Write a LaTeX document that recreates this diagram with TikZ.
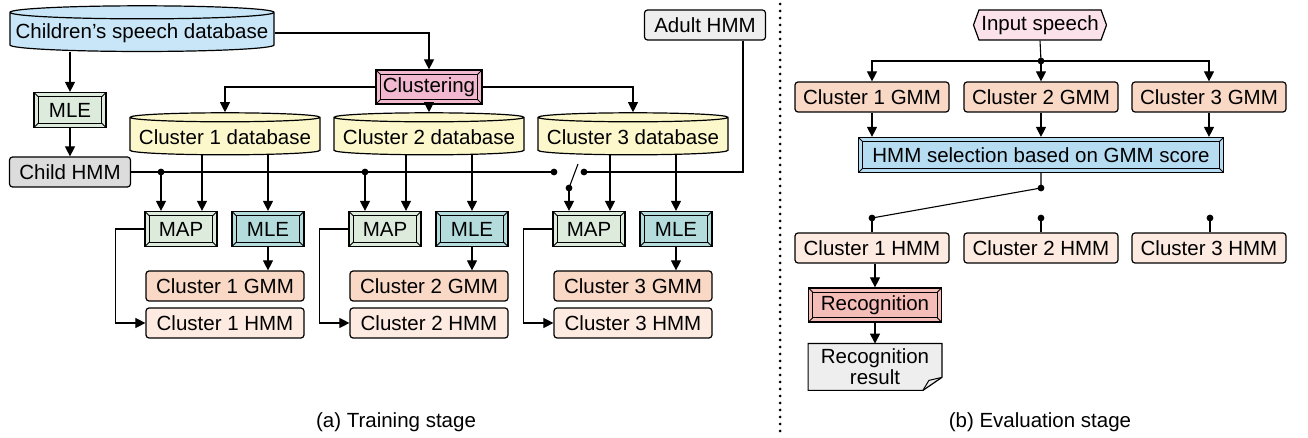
\documentclass[tikz,border=0pt]{standalone}
\usepackage{fontspec}
\setmainfont{Liberation Sans}
\usepackage{tikz}
\usetikzlibrary{arrows.meta, shapes.geometric, shapes.symbols, backgrounds}

\definecolor{dbblue}{HTML}{C8E6F8}
\definecolor{dbyellow}{HTML}{FCF8CC}
\definecolor{clpink}{HTML}{F2B8D0}
\definecolor{mapgreen}{HTML}{DCEBDC}
\definecolor{mleteal}{HTML}{B4DCDC}
\definecolor{gmmpeach}{HTML}{F9D8C6}
\definecolor{hmmpeach}{HTML}{FDEBE1}
\definecolor{childgray}{HTML}{DCDCDC}
\definecolor{adultgray}{HTML}{EEEEEE}
\definecolor{inpink}{HTML}{FBE1EA}
\definecolor{selblue}{HTML}{B6DCF2}
\definecolor{recred}{HTML}{F4BDB8}
\definecolor{resgray}{HTML}{EEEEEE}

\tikzset{
    database/.style={cylinder, shape border rotate=90, draw, fill=#1, line width=0.6pt,
        aspect=0.05, minimum height=21pt, minimum width=95pt, inner xsep=2pt, inner ysep=1.5pt},
    bevel/.style={rectangle, draw, fill=#1, line width=0.6pt, inner sep=0pt,
        minimum width=36pt, minimum height=17.5pt,
        path picture={
            \draw[line width=0.45pt]
                ([shift={(2.2pt,-2.2pt)}]path picture bounding box.north west) rectangle
                ([shift={(-2.2pt,2.2pt)}]path picture bounding box.south east);
            \draw[line width=0.45pt]
                (path picture bounding box.north west) -- ++(2.2pt,-2.2pt)
                (path picture bounding box.north east) -- ++(-2.2pt,-2.2pt)
                (path picture bounding box.south west) -- ++(2.2pt,2.2pt)
                (path picture bounding box.south east) -- ++(-2.2pt,2.2pt);
        }},
    model/.style={rectangle, rounded corners=1.5pt, draw, fill=#1, line width=0.6pt,
        inner sep=0pt, minimum width=79pt, minimum height=15pt},
    junction/.style={circle, fill, inner sep=0pt, minimum size=3.4pt},
    flowarrow/.style={-{Triangle[length=5pt,width=5pt]}, line width=0.55pt},
    wire/.style={line width=0.55pt}
}

\begin{document}
\begin{tikzpicture}[x=0.5pt, y=-0.5pt, every node/.style={font=\fontsize{10.25pt}{12pt}\selectfont}]
    \useasboundingbox (0,0) rectangle (1308,438);

    % training stage
    \node[database=dbblue, minimum width=132pt, minimum height=21.5pt, inner ysep=2pt] at (142, 33)  (chdb) {Children's speech database};
    \node[bevel=mapgreen] at (70, 110)  (mle0) {MLE};
    \node[model=childgray, minimum width=60.5pt] at (70, 172)  (child) {Child HMM};
    \node[model=adultgray, minimum width=60.5pt] at (705, 25)  (adult) {Adult HMM};
    \node[bevel=clpink, minimum width=53pt, minimum height=17pt] at (429, 87)  (clus) {Clustering};

    \node[database=dbyellow] at (225, 137)  (db1) {Cluster 1 database};
    \node[database=dbyellow] at (429, 137)  (db2) {Cluster 2 database};
    \node[database=dbyellow] at (633, 137)  (db3) {Cluster 3 database};

    \node[bevel=mapgreen] at (181, 229)  (map1) {MAP};
    \node[bevel=mleteal]  at (268, 229)  (mle1) {MLE};
    \node[model=gmmpeach] at (225, 286)  (gmm1) {Cluster 1 GMM};
    \node[model=hmmpeach] at (225, 323)  (hmm1) {Cluster 1 HMM};

    \node[bevel=mapgreen] at (385, 229)  (map2) {MAP};
    \node[bevel=mleteal]  at (472, 229)  (mle2) {MLE};
    \node[model=gmmpeach] at (429, 286)  (gmm2) {Cluster 2 GMM};
    \node[model=hmmpeach] at (429, 323)  (hmm2) {Cluster 2 HMM};

    \node[bevel=mapgreen] at (589, 229)  (map3) {MAP};
    \node[bevel=mleteal]  at (676, 229)  (mle3) {MLE};
    \node[model=gmmpeach] at (633, 286)  (gmm3) {Cluster 3 GMM};
    \node[model=hmmpeach] at (633, 323)  (hmm3) {Cluster 3 HMM};

    \node[junction] at (161, 172)  (tap1) {};
    \node[junction] at (365, 172)  (tap2) {};
    \node[junction] at (554, 172)  (swl) {};
    \node[junction] at (584, 172)  (swr) {};
    \node[junction] at (569, 188)  (swp) {};
    \coordinate (blade) at (578, 164);

    \draw [flowarrow] (chdb.south -| mle0.north) -- (mle0.north);
    \draw [flowarrow] (mle0) -- (child);
    \draw [flowarrow] (chdb.east) -| (clus.north);
    \draw [flowarrow] (clus.west) -| (db1.north);
    \draw [flowarrow] (clus.south) -- (db2.north);
    \draw [flowarrow] (clus.east) -| (db3.north);

    \draw [wire] (child.east) -- (swl.center);
    \draw [wire] (swp.center) -- (blade);
    \draw [wire] ([xshift=19pt]adult.south) |- (swr.center);

    \draw [flowarrow] (tap1.center) -- (tap1 |- map1.north);
    \draw [flowarrow] (tap2.center) -- (tap2 |- map2.north);
    \draw [flowarrow] (swp.center) -- (swp |- map3.north);

    \draw [flowarrow] ([xshift=-11.5pt]db1.south) -- ([xshift=10.5pt]map1.north);
    \draw [flowarrow] ([xshift=-11.5pt]db2.south) -- ([xshift=10.5pt]map2.north);
    \draw [flowarrow] ([xshift=-11.5pt]db3.south) -- ([xshift=10.5pt]map3.north);
    \draw [flowarrow] (db1.south -| mle1.north) -- (mle1.north);
    \draw [flowarrow] (db2.south -| mle2.north) -- (mle2.north);
    \draw [flowarrow] (db3.south -| mle3.north) -- (mle3.north);

    \draw [flowarrow] (mle1.south) -- (mle1.south |- gmm1.north);
    \draw [flowarrow] (mle2.south) -- (mle2.south |- gmm2.north);
    \draw [flowarrow] (mle3.south) -- (mle3.south |- gmm3.north);
    \draw [flowarrow] (map1.west) -- ++(-14.5pt,0) |- (hmm1.west);
    \draw [flowarrow] (map2.west) -- ++(-14.5pt,0) |- (hmm2.west);
    \draw [flowarrow] (map3.west) -- ++(-14.5pt,0) |- (hmm3.west);

    % separator
    \draw [line width=1.5pt, dash pattern=on 0pt off 3.5pt, line cap=round] (780, 4) -- (780, 436);

    % evaluation stage
    \node[signal, signal to=west and east, signal pointer angle=140, draw, fill=inpink,
        line width=0.6pt, inner sep=0pt, minimum width=66.5pt, minimum height=15pt] at (1040, 25)  (inp) {Input speech};
    \node[model=gmmpeach, minimum width=77pt] at (872, 97)   (gmmA) {Cluster 1 GMM};
    \node[model=gmmpeach, minimum width=77pt] at (1041, 97)  (gmmB) {Cluster 2 GMM};
    \node[model=gmmpeach, minimum width=77pt] at (1209, 97)  (gmmC) {Cluster 3 GMM};
    \node[bevel=selblue, minimum width=182.5pt] at (1041, 155)  (sel) {HMM selection based on GMM score};
    \node[model=hmmpeach, minimum width=77pt] at (872, 248)  (hmmA) {Cluster 1 HMM};
    \node[model=hmmpeach, minimum width=77pt] at (1041, 248) (hmmB) {Cluster 2 HMM};
    \node[model=hmmpeach, minimum width=77pt] at (1209, 248) (hmmC) {Cluster 3 HMM};
    \node[bevel=recred, minimum width=66.5pt, minimum height=17pt] at (875, 305)  (rec) {Recognition};
    \node[rectangle, inner sep=0pt, minimum width=66.5pt, minimum height=23pt, align=center,
        font=\fontsize{10.25pt}{10.5pt}\selectfont] at (875, 367)  (res) {Recognition\\result};
    \begin{scope}[on background layer]
        \filldraw [fill=resgray, line width=0.6pt] (res.north west) -- (res.north east)
            -- ([yshift=6.5pt]res.south east) -- ([xshift=-9.5pt]res.south east)
            -- (res.south west) -- cycle;
        \draw [line width=0.5pt] ([xshift=-9.5pt]res.south east) -- ++(3pt,5pt) -- ([yshift=6.5pt]res.south east);
    \end{scope}

    \node[junction] at (1041, 61)   (split) {};
    \node[junction] at (1041, 188)  (selout) {};
    \node[junction] at (872, 218)   (hA) {};
    \node[junction] at (1041, 218)  (hB) {};
    \node[junction] at (1210, 218)  (hC) {};

    \draw [wire] (inp.south) -- (split.center);
    \draw [flowarrow] (split.center) -| (gmmA.north);
    \draw [flowarrow] (split.center) -- (gmmB.north);
    \draw [flowarrow] (split.center) -| (gmmC.north);
    \draw [flowarrow] (gmmA.south) -- (gmmA.south |- sel.north);
    \draw [flowarrow] (gmmB.south) -- (gmmB.south |- sel.north);
    \draw [flowarrow] (gmmC.south) -- (gmmC.south |- sel.north);
    \draw [wire] (sel.south) -- (selout.center) -- (hA.center);
    \draw [wire] (hA.center) -- (hA |- hmmA.north);
    \draw [wire] (hB.center) -- (hB |- hmmB.north);
    \draw [wire] (hC.center) -- (hC |- hmmC.north);
    \draw [flowarrow] (hmmA.south -| rec.north) -- (rec.north);
    \draw [flowarrow] (rec.south) -- (res.north);

    % captions
    \node at (396, 422)  (capa) {(a) Training stage};
    \node at (1040, 422) (capb) {(b) Evaluation stage};
\end{tikzpicture}
\end{document}
